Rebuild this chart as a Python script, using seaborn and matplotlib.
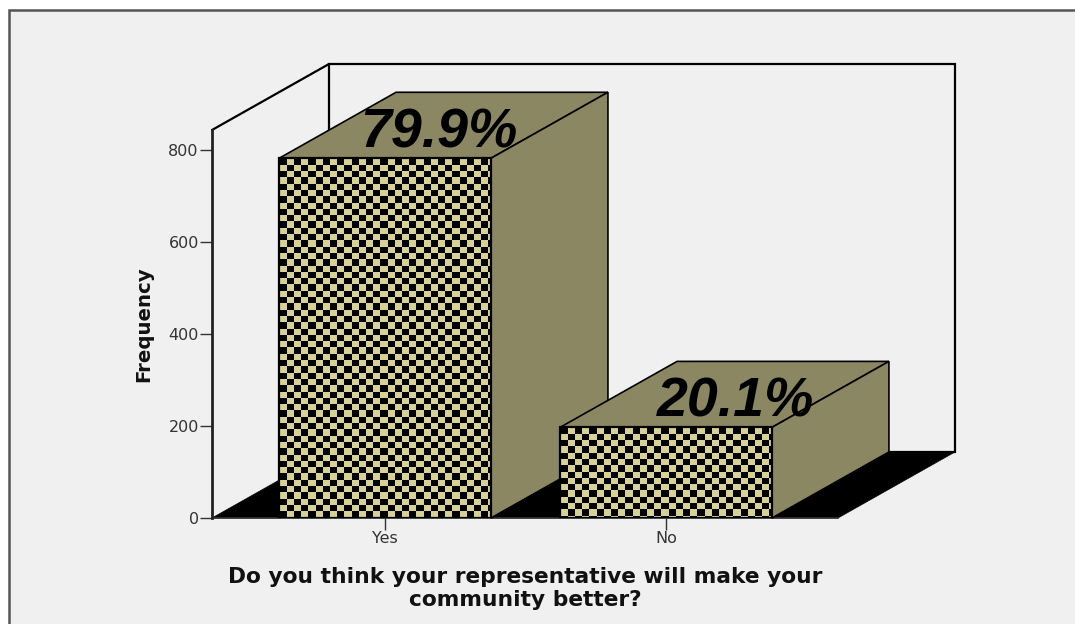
import matplotlib

matplotlib.use("Agg")

from matplotlib.lines import Line2D
from matplotlib.patches import Polygon, Rectangle
import matplotlib.pyplot as plt
import numpy as np
import seaborn as sns


CATEGORIES = ["Yes", "No"]
FREQUENCIES = [782, 197]
PERCENT_LABELS = ["79.9%", "20.1%"]
Y_TICKS = [0, 200, 400, 600, 800]
X_LABEL = "Do you think your representative will make your\ncommunity better?"
Y_LABEL = "Frequency"

WIDTH, HEIGHT = 1075, 624
PANEL_COLOR = "#f0f0f0"
BAR_COLOR = "#8a8762"
CHECK_COLOR = "#d8d196"

sns.set_style("white")
plt.rcParams["font.family"] = ["DejaVu Sans"]

fig = plt.figure(figsize=(WIDTH / 100, HEIGHT / 100), dpi=100, facecolor="white")
fig.add_artist(Rectangle((9 / WIDTH, -0.1), 1.1, 1.1 - 10 / HEIGHT, facecolor=PANEL_COLOR,
                         edgecolor="#555555", linewidth=1.8, transform=fig.transFigure, zorder=-1))

ax = fig.add_axes([212 / WIDTH, 1 - 518 / HEIGHT, 626 / WIDTH, 388 / HEIGHT])
ax.patch.set_alpha(0)

sns.barplot(x=CATEGORIES, y=FREQUENCIES, width=0.754, color=BAR_COLOR, saturation=1,
            edgecolor="black", linewidth=1.2, ax=ax, zorder=3)

ax.set_xlim(-173 / 281, 453 / 281)
ax.set_ylim(0, 388 / 0.46)
x0, x1 = ax.get_xlim()
y1 = ax.get_ylim()[1]

# depth of the fake 3D box, in data units
dx = 117 / 281
dy = 66 / 0.46

# back wall, side wall, floor
ax.add_patch(Polygon([(x0 + dx, dy), (x0 + dx, y1 + dy), (x1 + dx, y1 + dy), (x1 + dx, dy)],
                     closed=True, facecolor=PANEL_COLOR, edgecolor="black", linewidth=1.6,
                     clip_on=False, zorder=1))
ax.add_line(Line2D([x0, x0 + dx], [y1, y1 + dy], color="black", linewidth=1.6,
                   clip_on=False, zorder=1))
ax.add_patch(Polygon([(x0, 0), (x1, 0), (x1 + dx, dy), (x0 + dx, dy)], closed=True,
                     facecolor="black", edgecolor="black", linewidth=0.5, clip_on=False, zorder=2))

px_per_y = ax.bbox.height / y1
px_per_x = ax.bbox.width / (x1 - x0)
cell_w, cell_h = 7.2, 6.3

for bar, label, offset in zip(list(ax.patches)[:len(CATEGORIES)], PERCENT_LABELS, [0.19, 0.246]):
    left, w, h = bar.get_x(), bar.get_width(), bar.get_height()
    right = left + w

    # top and side faces
    ax.add_patch(Polygon([(left, h), (right, h), (right + dx, h + dy), (left + dx, h + dy)],
                         closed=True, facecolor=BAR_COLOR, edgecolor="black", linewidth=1.2,
                         clip_on=False, zorder=3))
    ax.add_patch(Polygon([(right, 0), (right, h), (right + dx, h + dy), (right + dx, dy)],
                         closed=True, facecolor=BAR_COLOR, edgecolor="black", linewidth=1.2,
                         clip_on=False, zorder=3))

    # checkered front face, built one array element per output pixel so cells stay even
    n_cols = int(round(w * px_per_x))
    n_rows = int(round(h * px_per_y))
    rows, cols = np.indices((n_rows, n_cols))
    checks = ((rows // cell_h).astype(int) + (cols // cell_w).astype(int)) % 2
    ax.imshow(checks, extent=(left, right, 0, h), aspect="auto", origin="upper",
              cmap=matplotlib.colors.ListedColormap(["black", CHECK_COLOR]),
              interpolation="nearest", zorder=4)
    ax.add_patch(Rectangle((left, 0), w, h, fill=False, edgecolor="black", linewidth=1.6, zorder=5))

    ax.text(left + w / 2 + offset, h + 54, label, ha="center", va="center", fontsize=40,
            fontweight="bold", fontstyle="italic", family="Liberation Sans", color="black",
            clip_on=False, zorder=6)

ax.set_xlim(x0, x1)
ax.set_ylim(0, y1)

sns.despine(ax=ax, top=True, right=True)
ax.spines["left"].set_linewidth(2)
ax.spines["left"].set_color("#222222")
ax.spines["bottom"].set_linewidth(1.2)
ax.spines["bottom"].set_color("#333333")
ax.spines["left"].set_zorder(7)

ax.set_yticks(Y_TICKS)
ax.tick_params(axis="both", which="both", left=True, bottom=True, length=8.5, width=1,
               color="#333333", labelcolor="#333333", labelsize=11.5, pad=1)
ax.set_xlabel(X_LABEL, fontsize=15.7, fontweight="bold", color="#111111", labelpad=15, linespacing=1.2)
ax.set_ylabel(Y_LABEL, fontsize=14.2, fontweight="bold", color="#111111", labelpad=11)

fig.savefig("out.png", dpi=100, facecolor=fig.get_facecolor())
